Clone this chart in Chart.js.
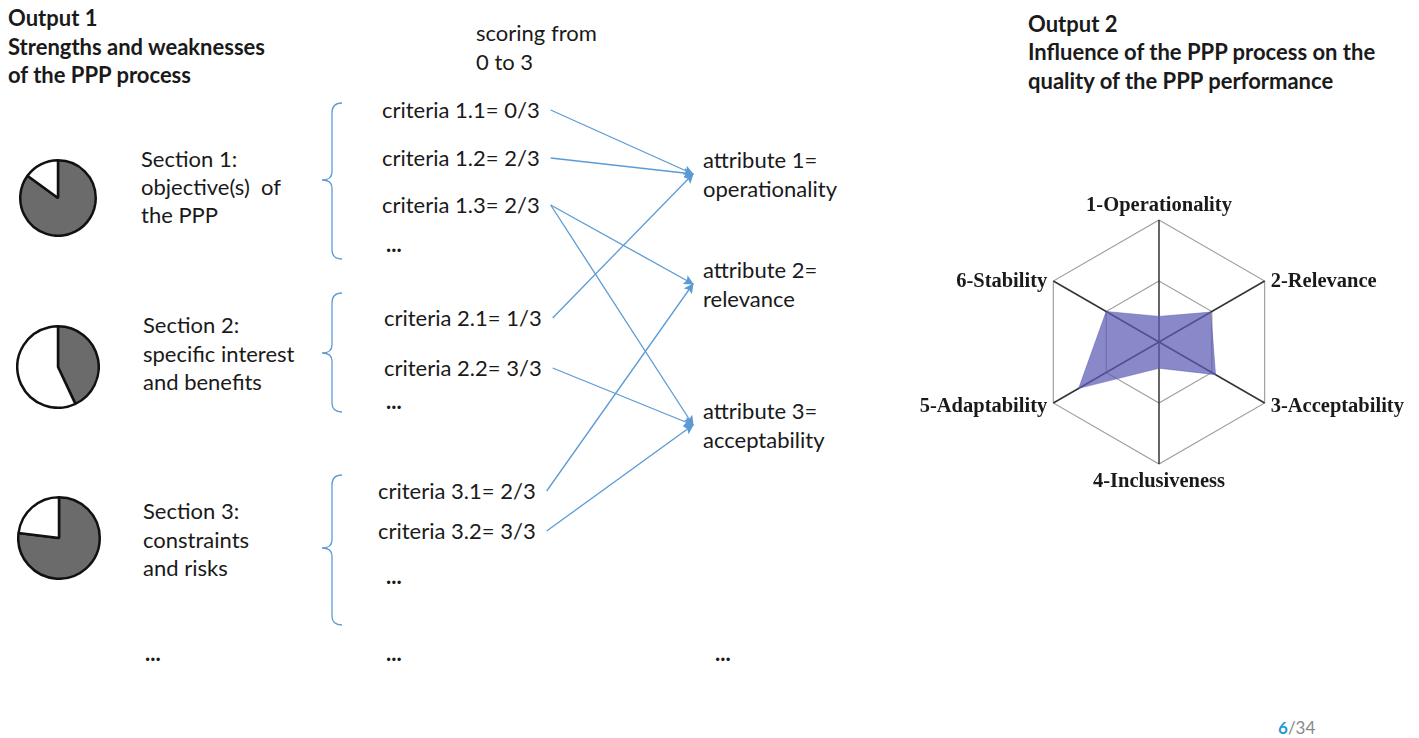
<!DOCTYPE html>
<html>
<head>
<meta charset="utf-8">
<script src="https://cdn.jsdelivr.net/npm/chart.js@4.4.0/dist/chart.umd.min.js"></script>
<style>
  body { margin: 0; background: #fff; }
  #page { position: relative; width: 1419px; height: 738px; overflow: hidden; font-family: Lato, "Open Sans", sans-serif; color: #1a1a1a; }
  .t { position: absolute; white-space: pre; font-size: 22px; line-height: 26px; }
  .b { font-weight: bold; }
  canvas { position: absolute; }
  svg { position: absolute; left: 0; top: 0; }
</style>
</head>
<body>
<div id="page">
  <svg id="links" width="1419" height="738">
    <defs>
      <marker id="head" viewBox="0 0 10 10" refX="9" refY="5" markerWidth="10" markerHeight="10" orient="auto" markerUnits="userSpaceOnUse">
        <path d="M0,0 L10,5 L0,10 L2,5 z" fill="#5b9bd5"/>
      </marker>
    </defs>
    <g fill="none" stroke="#5b9bd5" stroke-width="1.3">
      <path d="M342,103 Q332,103 332,113 L332,172 Q332,180 322,180 Q332,180 332,188 L332,250 Q332,259 342,259"/>
      <path d="M342,293 Q332,293 332,303 L332,345 Q332,353 322,353 Q332,353 332,361 L332,403 Q332,412 342,412"/>
      <path d="M342,475 Q332,475 332,485 L332,540 Q332,548 322,548 Q332,548 332,556 L332,616 Q332,625 342,625"/>
    </g>
    <g id="arrows" stroke="#5b9bd5" stroke-width="1.3"></g>
  </svg>
  <canvas id="pie1" width="78" height="78" style="left:19px;top:159px"></canvas>
  <canvas id="pie2" width="84" height="84" style="left:16px;top:325px"></canvas>
  <canvas id="pie3" width="84" height="84" style="left:17px;top:496px"></canvas>
  <canvas id="radar" width="500" height="330" style="left:909px;top:177px"></canvas>
  <div class="t" style="left:1278px;top:718px;font-size:17px;line-height:20px"><span style="color:#1f9ad6;font-weight:bold">6</span><span style="color:#888">/34</span></div>
</div>
<script>
// scores of the criteria
const criteriaIds = ['1.1', '1.2', '1.3', '2.1', '2.2', '3.1', '3.2'];
const criteriaScores = [0, 2, 2, 1, 3, 2, 3];
const attributeNames = ['operationality', 'relevance', 'acceptability'];
// criterion index -> attribute index
const links = [[0, 0], [1, 0], [2, 1], [2, 2], [3, 0], [4, 2], [5, 1], [6, 2]];

// share of the dark slice in each section pie (%)
const sectionShares = [85, 43, 77];

const radarLabels = ['1-Operationality', '2-Relevance', '3-Acceptability', '4-Inclusiveness', '5-Adaptability', '6-Stability'];
const radarValues = [0.42, 0.98, 1.07, 0.43, 1.52, 1.0];

const page = document.getElementById('page');
function text(str, x, y, cls) {
  const d = document.createElement('div');
  d.className = 't' + (cls ? ' ' + cls : '');
  d.style.left = x + 'px';
  d.style.top = (y - 13) + 'px';
  d.textContent = str;
  page.appendChild(d);
  return d;
}

// headings
text('Output 1', 8, 18, 'b');
text('Strengths and weaknesses', 8, 47, 'b');
text('of the PPP process', 8, 75, 'b');
text('Output 2', 1028, 24, 'b');
text('Influence of the PPP process on the', 1028, 52, 'b');
text('quality of the PPP performance', 1028, 81, 'b');
text('scoring from', 476, 33);
text('0 to 3', 476, 62);

// sections
text('Section 1:', 141, 159); text('objective(s)  of', 141, 187); text('the PPP', 141, 215);
text('Section 2:', 143, 325); text('specific interest', 143, 354); text('and benefits', 143, 382);
text('Section 3:', 143, 511); text('constraints', 143, 540); text('and risks', 143, 568);

// criteria
const critPos = [[382, 110], [382, 158], [382, 205], [384, 318], [384, 368], [378, 491], [378, 531]];
const critEls = criteriaIds.map((id, i) =>
  text('criteria ' + id + '= ' + criteriaScores[i] + '/3', critPos[i][0], critPos[i][1]));

// attributes
const attrPos = [[703, 160], [703, 270], [703, 411]];
const attrEls = attributeNames.map((name, i) => {
  text('attribute ' + (i + 1) + '=', attrPos[i][0], attrPos[i][1]);
  return text(name, attrPos[i][0], attrPos[i][1] + 29);
});

// ellipses
[[386, 244], [386, 401], [386, 576], [145, 653], [386, 653], [715, 653]].forEach(p => text('...', p[0], p[1], 'b'));

// arrows from criteria to attributes
const pr = page.getBoundingClientRect();
const g = document.getElementById('arrows');
links.forEach(([c, a]) => {
  const r1 = critEls[c].getBoundingClientRect();
  const r2 = attrEls[a].getBoundingClientRect();
  const x1 = r1.right - pr.left + 11, y1 = r1.top - pr.top + r1.height / 2;
  const x2 = r2.left - pr.left - 10, y2 = r2.top - pr.top - 2;
  const l = document.createElementNS('http://www.w3.org/2000/svg', 'line');
  l.setAttribute('x1', x1); l.setAttribute('y1', y1);
  l.setAttribute('x2', x2); l.setAttribute('y2', y2);
  l.setAttribute('marker-end', 'url(#head)');
  g.appendChild(l);
});

// section pies
['pie1', 'pie2', 'pie3'].forEach((id, i) => {
  new Chart(document.getElementById(id), {
    type: 'pie',
    data: {
      labels: ['met', 'not met'],
      datasets: [{
        data: [sectionShares[i], 100 - sectionShares[i]],
        backgroundColor: ['#6b6b6b', '#ffffff'],
        borderColor: '#111',
        borderWidth: 2.5
      }]
    },
    options: {
      responsive: false,
      animation: false,
      plugins: { legend: { display: false }, tooltip: { enabled: false } }
    }
  });
});

// point labels sit beside the side vertices, not above them
const sideLabels = {
  id: 'sideLabels',
  afterDraw(chart) {
    const scale = chart.scales.r;
    const ctx = chart.ctx;
    ctx.save();
    ctx.font = 'bold 20.5px "Liberation Serif", "Times New Roman", serif';
    ctx.fillStyle = '#1a1a1a';
    chart.data.labels.forEach((lab, i) => {
      const p = scale.getPointPosition(i, scale.drawingArea + 7);
      const dx = p.x - scale.xCenter;
      let y = p.y;
      if (Math.abs(dx) < 1) {
        ctx.textAlign = 'center';
        ctx.textBaseline = p.y < scale.yCenter ? 'bottom' : 'top';
        if (p.y < scale.yCenter) y += 3;
      } else {
        ctx.textAlign = dx > 0 ? 'left' : 'right';
        ctx.textBaseline = 'middle';
        if (p.y < scale.yCenter) y += 4;
      }
      ctx.fillText(lab, p.x, y);
    });
    ctx.restore();
  }
};

// attribute radar
new Chart(document.getElementById('radar'), {
  type: 'radar',
  data: {
    labels: radarLabels,
    datasets: [{
      data: radarValues,
      backgroundColor: 'rgba(92,92,182,0.72)',
      borderColor: 'rgba(92,92,182,0.5)',
      borderWidth: 1,
      pointRadius: 0
    }]
  },
  options: {
    responsive: false,
    animation: false,
    layout: { padding: { top: 43, bottom: 43 } },
    plugins: { legend: { display: false }, tooltip: { enabled: false } },
    scales: {
      r: {
        min: 0,
        max: 2,
        ticks: { stepSize: 1, display: false },
        grid: { color: '#a0a0a0', lineWidth: 1.2 },
        angleLines: { color: '#333', lineWidth: 1.5 },
        pointLabels: { display: false }
      }
    }
  },
  plugins: [sideLabels]
});
</script>
</body>
</html>
